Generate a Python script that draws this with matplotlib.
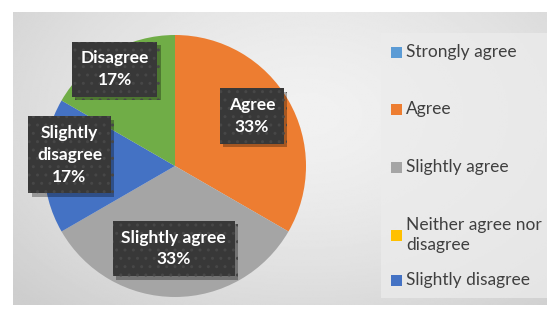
import numpy as np
import matplotlib.pyplot as plt
import matplotlib.patheffects as pe
from matplotlib.patches import Rectangle

categories = ["Strongly agree", "Agree", "Slightly agree",
              "Neither agree nor disagree", "Slightly disagree", "Disagree"]
counts = [0, 2, 2, 0, 1, 1]
legend_labels = ["Strongly agree", "Agree", "Slightly agree",
                 "Neither agree nor\ndisagree", "Slightly disagree"]
label_text = ["", "Agree", "Slightly agree", "", "Slightly\ndisagree", "Disagree"]

colors = ["#5B9BD5", "#ED7D31", "#A5A5A5", "#FFC000", "#4472C4", "#70AD47"]
# where Excel put the data labels (fraction of radius, angle nudge in degrees)
label_r = [0, 0.70, 0.63, 0, 0.81, 0.87]
label_nudge = [0, 3, -1, 0, -6, 2]

W, H = 558, 316
fig = plt.figure(figsize=(W / 100, H / 100), dpi=100)
fig.patch.set_facecolor("white")

# chart area with a soft radial gradient
bg = fig.add_axes([13 / W, (H - 305) / H, 534 / W, 293 / H])
yy, xx = np.mgrid[0:1:200j, 0:1:360j]
d = np.sqrt(((xx - 0.55) / 0.75) ** 2 + ((yy - 0.35) / 0.9) ** 2)
shade = 0.945 - 0.14 * np.clip(d, 0, 1) ** 1.5
bg.imshow(shade, cmap="gray", vmin=0, vmax=1, aspect="auto", interpolation="bilinear")
bg.axis("off")

# legend panel
fig.patches.append(Rectangle((381 / W, (H - 298) / H), 166 / W, 265 / H,
                             transform=fig.transFigure, facecolor="#ececec",
                             edgecolor="none", alpha=0.75, zorder=1))

# pie
cx, cy, r = 175, 166, 131
ax = fig.add_axes([(cx - r) / W, (H - cy - r) / H, 2 * r / W, 2 * r / H])
wedges, _ = ax.pie(counts, colors=colors, startangle=90, counterclock=False,
                   wedgeprops=dict(linewidth=0))
ax.set_xlim(-1, 1)
ax.set_ylim(-1, 1)
ax.set_aspect("auto")
ax.patch.set_alpha(0)

total = sum(counts)
for w, n, txt, rr, nudge in zip(wedges, counts, label_text, label_r, label_nudge):
    if n == 0:
        continue
    ang = np.deg2rad((w.theta1 + w.theta2) / 2 + nudge)
    x, y = rr * np.cos(ang), rr * np.sin(ang)
    s = f"{txt}\n{round(100 * n / total)}%"
    t = ax.text(x, y, s, ha="center", va="center", color="white",
                fontsize=12.5, fontweight="bold", family="Lato", linespacing=1.45,
                bbox=dict(boxstyle="square,pad=0.5", facecolor="#383838",
                          edgecolor="#474747", linewidth=0, hatch=".."))
    t.get_bbox_patch().set_path_effects(
        [pe.SimplePatchShadow(offset=(2.5, -2.5), shadow_rgbFace="black", alpha=0.3),
         pe.Normal()])

# legend entries
leg_y = [52, 109, 167, 235, 280]
for lab, col, ly in zip(legend_labels, colors, leg_y):
    fig.patches.append(Rectangle((391 / W, (H - ly - 5.5) / H), 11 / W, 11 / H,
                                 transform=fig.transFigure, facecolor=col,
                                 edgecolor="none", zorder=3))
    fig.text(406 / W, (H - ly) / H, lab, ha="left", va="center", color="#404040",
             fontsize=12.5, family="Lato", linespacing=1.3)

fig.savefig("out.png", dpi=100)
